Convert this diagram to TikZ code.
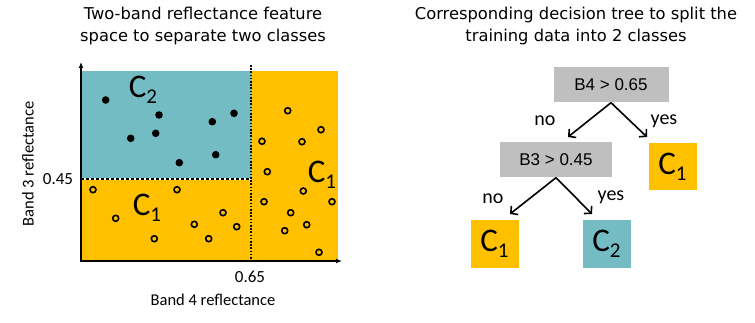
\documentclass[tikz,border=0pt]{standalone}
\usepackage{fontspec}
\setmainfont{Carlito}
\newfontfamily\titlefont{DejaVu Sans}
\newfontfamily\testfont{Liberation Sans}
\usetikzlibrary{arrows.meta,positioning}
\definecolor{classone}{HTML}{FFC000}
\definecolor{classtwo}{HTML}{74BCC3}
\definecolor{splitgray}{HTML}{BFBFBF}
\newcommand{\classlbl}[1]{C\raisebox{-6pt}{\fontsize{21}{21}\selectfont #1}}
\begin{document}
\begin{tikzpicture}[
    x=1pt, y=-1pt,
    title/.style={align=center, font=\titlefont\fontsize{16.3}{22}\selectfont},
    axislabel/.style={font=\fontsize{16.5}{19}\selectfont},
    ticklabel/.style={font=\fontsize{17}{18}\selectfont},
    region/.style={font=\fontsize{33}{33}\selectfont},
    test/.style={rectangle, fill=splitgray, minimum height=35pt, font=\testfont\fontsize{17}{18}\selectfont},
    leaf/.style={rectangle, minimum width=48pt, minimum height=47pt, inner sep=0pt, font=\fontsize{33}{33}\selectfont},
    branch/.style={-{Straight Barb[length=5pt,width=11pt]}, line width=1.6pt},
    answer/.style={font=\fontsize{20}{22}\selectfont},
    axis/.style={{Latex[length=6pt,width=5pt]}-{Latex[length=6pt,width=5pt]}, line width=1.2pt},
    ring/.style={draw=black, line width=1.6pt}
]
    \useasboundingbox (0,0) rectangle (755,323);

    % titles
    \node[title] (lefttitle) at (203,26) {Two-band reflectance feature\\space to separate two classes};
    \node[title] (righttitle) at (576,26) {Corresponding decision tree to split the\\training data into 2 classes};

    % feature space
    \fill[classtwo] (81,71) rectangle (251,179);
    \fill[classone] (81,179) rectangle (251,261);
    \fill[classone] (251,71) rectangle (338,261);

    \coordinate (ytop) at (81,62);
    \coordinate (origin) at (81,261);
    \coordinate (xend) at (342,261);
    \draw[axis] (ytop) -- (origin) -- (xend);

    \draw[white, line width=1.2pt] (81,179) -- (251,179);
    \draw[line width=1.2pt, dash pattern=on 3pt off 2pt] (81,179) -- (251,179);
    \draw[line width=1.5pt, dash pattern=on 1.6pt off 1.6pt] (251,65) -- (251,261);

    \node[ticklabel] (b3tick) at (58,179) {0.45};
    \node[ticklabel] (b4tick) at (250,277) {0.65};
    \node[axislabel] (xlabel) at (213,300) {Band 4 reflectance};
    \node[axislabel, rotate=90] (ylabel) at (28,164) {Band 3 reflectance};

    \node[region] (c2area) at (143,90) {\classlbl{2}};
    \node[region] (c1area) at (147,208) {\classlbl{1}};
    \node[region] (c1right) at (322,175) {\classlbl{1}};

    % samples
    \foreach \x/\y in {105.7/100, 159/115, 212.3/121.7, 234/113.3, 130.7/138.3, 155.7/133.3, 215.7/154.7, 179.3/162.7}
        \fill (\x,\y) circle (3.8pt);
    \foreach \x/\y in {93/189.7, 115.7/218.3, 154.3/238.7, 177/189.7, 194.3/224.3, 208.7/238.7, 223/212.7, 236.7/226.7,
        287.7/110.7, 321/129.7, 262/141.3, 302/141.7, 267.3/171.7, 303.3/191, 264/201.7, 332/201.7,
        290.7/212.7, 306.7/224.7, 284.7/230.7, 319/252.3}
        \draw[ring] (\x,\y) circle (3pt);

    % decision tree
    \node[test, minimum width=115pt] (b4) at (611,85) {B4 > 0.65};
    \node[test, minimum width=112pt] (b3) at (556,160) {B3 > 0.45};
    \node[leaf, fill=classone] (leafright) at (672.5,167) {\classlbl{1}};
    \node[leaf, fill=classone] (leafno) at (494.5,244) {\classlbl{1}};
    \node[leaf, fill=classtwo] (leafyes) at (606.5,244) {\classlbl{2}};

    \coordinate (b4no) at (568,137);
    \coordinate (b4yes) at (647,137);
    \coordinate (b3no) at (510,214);
    \coordinate (b3yes) at (592,214);
    \draw[branch] (b4.south) -- (b4no);
    \draw[branch] (b4.south) -- (b4yes);
    \draw[branch] (b3.south) -- (b3no);
    \draw[branch] (b3.south) -- (b3yes);

    \node[answer] (no1) at (545,121) {no};
    \node[answer] (yes1) at (664,121) {yes};
    \node[answer] (no2) at (493,199) {no};
    \node[answer] (yes2) at (611,197) {yes};
\end{tikzpicture}
\end{document}
